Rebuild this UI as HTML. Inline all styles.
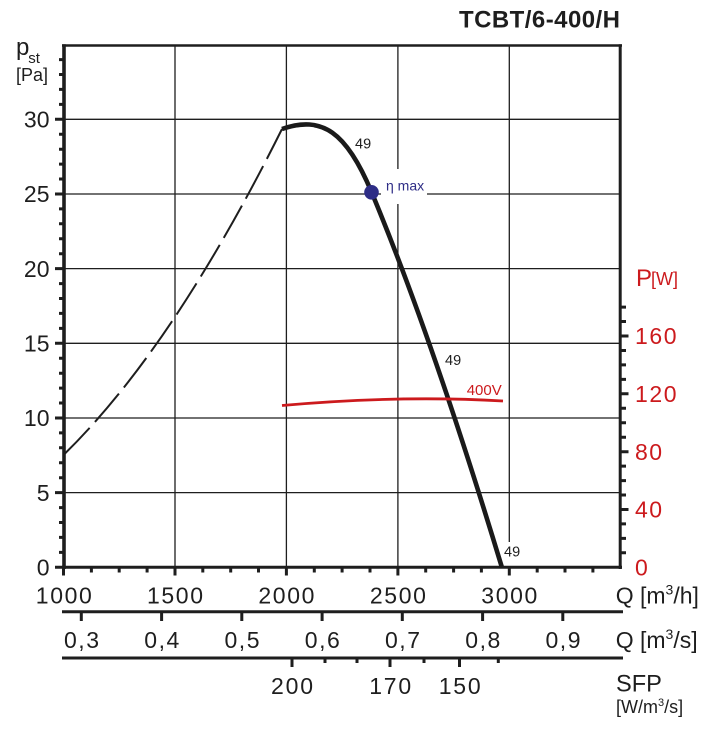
<!DOCTYPE html>
<html>
<head>
<meta charset="utf-8">
<style>
html,body{margin:0;padding:0;background:#fff;}
svg{display:block;}
text{font-family:"Liberation Sans",Arial,sans-serif;}
</style>
</head>
<body>
<svg width="707" height="737" viewBox="0 0 707 737" xmlns="http://www.w3.org/2000/svg">
<rect x="0" y="0" width="707" height="737" fill="#fff"/>

<!-- title -->
<text x="459" y="27.3" font-size="24" font-weight="bold" fill="#1e1e1e" textLength="161" lengthAdjust="spacing">TCBT/6-400/H</text>

<!-- grid -->
<g stroke="#1e1e1e" stroke-width="1.3" fill="none">
<path d="M64 492.6H620 M64 418H620 M64 343.3H620 M64 268.6H620 M64 194H620 M64 119.3H620"/>
<path d="M175 45.5V567 M286.4 45.5V567 M397.9 45.5V567 M509.3 45.5V567"/>
</g>

<!-- white label boxes -->
<rect x="381" y="169" width="46" height="35" fill="#fff"/>
<rect x="503" y="542" width="18" height="24" fill="#fff"/>

<!-- frame -->
<g stroke="#1e1e1e" fill="none">
<path d="M62 45.5H622" stroke-width="2.6"/>
<path d="M64 44.2V569" stroke-width="3.6"/>
<path d="M620.2 44.2V569" stroke-width="3"/>
<path d="M62 567.3H622" stroke-width="3"/>
<!-- left ticks -->
<path stroke-width="3" d="M59 552.4H64 M59 537.4H64 M59 522.5H64 M59 507.6H64 M59 477.7H64 M59 462.8H64 M59 447.8H64 M59 432.9H64 M59 403H64 M59 388.1H64 M59 373.2H64 M59 358.2H64 M59 328.4H64 M59 313.4H64 M59 298.5H64 M59 283.6H64 M59 253.7H64 M59 238.8H64 M59 223.8H64 M59 208.9H64 M59 179H64 M59 164.1H64 M59 149.2H64 M59 134.2H64 M59 104.4H64 M59 89.4H64 M59 74.5H64 M59 59.6H64"/>
<path stroke-width="3" d="M55 567.3H64 M55 492.6H64 M55 418H64 M55 343.3H64 M55 268.6H64 M55 194H64 M55 119.3H64"/>
<!-- bottom ticks -->
<path stroke-width="3" d="M91.4 567V572.5 M119.2 567V572.5 M147.1 567V572.5 M202.8 567V572.5 M230.7 567V572.5 M258.5 567V572.5 M314.3 567V572.5 M342.1 567V572.5 M370 567V572.5 M425.7 567V572.5 M453.6 567V572.5 M481.4 567V572.5 M537.2 567V572.5 M565 567V572.5 M592.9 567V572.5"/>
<path stroke-width="3" d="M63.5 567V575.5 M175 567V575.5 M286.4 567V575.5 M397.9 567V575.5 M509.3 567V575.5"/>
<!-- right ticks -->
<path stroke-width="3" d="M620 552.8H626 M620 538.4H626 M620 523.9H626 M620 495H626 M620 480.6H626 M620 466.1H626 M620 437.2H626 M620 422.7H626 M620 408.3H626 M620 379.4H626 M620 364.9H626 M620 350.5H626 M620 321.5H626 M620 307.1H626"/>
<path stroke-width="3" d="M620 509.5H628.5 M620 451.7H628.5 M620 393.8H628.5 M620 336H628.5"/>
<!-- Q m3/s axis -->
<path stroke-width="3" d="M62 611.8H623"/>
<path stroke-width="3" d="M81.3 612V621 M161.6 612V621 M241.8 612V621 M322.1 612V621 M402.3 612V621 M482.6 612V621 M562.8 612V621"/>
<!-- SFP axis -->
<path stroke-width="3" d="M62 658H623"/>
<path stroke-width="3" d="M292 658V667 M390 658V667 M459.5 658V667"/>
<path stroke-width="3" d="M325 658V663 M357 658V663 M424 658V663 M498.3 658V663"/>
</g>

<!-- dashed curve -->
<path d="M64 454.5 Q172.85 348.1 282 129" fill="none" stroke="#1e1e1e" stroke-width="2" stroke-dasharray="37 8"/>

<!-- main curve -->
<path d="M282 129 C322 115 346.5 132 371.5 192 C414.9 296.2 458.3 423.5 501.7 566.7" fill="none" stroke="#1a1a1a" stroke-width="4.6" stroke-linecap="butt"/>

<!-- red power curve -->
<path d="M282 405.5 Q400 395 503 401" fill="none" stroke="#cc1a1d" stroke-width="2.8"/>

<!-- eta max dot -->
<circle cx="371.5" cy="192.3" r="7.3" fill="#2e2d86"/>
<text x="386" y="190.5" font-size="14" fill="#2e2d86">η max</text>

<!-- curve labels -->
<text x="355" y="148.5" font-size="14.5" fill="#1e1e1e">49</text>
<text x="445" y="365" font-size="14.5" fill="#1e1e1e">49</text>
<text x="504" y="556.7" font-size="14.5" fill="#1e1e1e">49</text>
<text x="466.7" y="395" font-size="15" fill="#cc1a1d">400V</text>

<!-- left axis label -->
<text x="16" y="55" font-size="24" fill="#1e1e1e">p</text>
<text x="28.3" y="63" font-size="15" fill="#1e1e1e">st</text>
<text x="16" y="81" font-size="18" fill="#1e1e1e">[Pa]</text>

<!-- left tick labels -->
<g font-size="23" fill="#1e1e1e" text-anchor="end">
<text x="49.5" y="127.5">30</text>
<text x="49.5" y="202.2">25</text>
<text x="49.5" y="276.8">20</text>
<text x="49.5" y="351.5">15</text>
<text x="49.5" y="426.2">10</text>
<text x="49.5" y="500.8">5</text>
<text x="49.5" y="575.5">0</text>
</g>

<!-- right axis label & ticks -->
<text x="636" y="286" font-size="24" fill="#cc1a1d">P</text>
<text x="651" y="285" font-size="18" fill="#cc1a1d">[W]</text>
<g font-size="23" fill="#cc1a1d">
<text x="635" y="344.2" textLength="41.5" lengthAdjust="spacing">160</text>
<text x="635" y="402" textLength="41.5" lengthAdjust="spacing">120</text>
<text x="635" y="459.9" textLength="27" lengthAdjust="spacing">80</text>
<text x="635" y="517.7" textLength="27" lengthAdjust="spacing">40</text>
<text x="635" y="575.5">0</text>
</g>

<!-- Q m3/h labels -->
<g font-size="23" fill="#1e1e1e" text-anchor="middle">
<text x="63.8" y="603.3" textLength="56" lengthAdjust="spacing">1000</text>
<text x="175" y="603.3" textLength="56" lengthAdjust="spacing">1500</text>
<text x="286.4" y="603.3" textLength="56" lengthAdjust="spacing">2000</text>
<text x="397.9" y="603.3" textLength="56" lengthAdjust="spacing">2500</text>
<text x="509.3" y="603.3" textLength="56" lengthAdjust="spacing">3000</text>
</g>
<text x="615.7" y="603.3" font-size="23" fill="#1e1e1e">Q [m<tspan font-size="14" dy="-9">3</tspan><tspan font-size="23" dy="9">/h]</tspan></text>

<!-- Q m3/s labels -->
<g font-size="23" fill="#1e1e1e" text-anchor="middle">
<text x="81.5" y="648" textLength="35" lengthAdjust="spacing">0,3</text>
<text x="161.8" y="648" textLength="35" lengthAdjust="spacing">0,4</text>
<text x="242" y="648" textLength="35" lengthAdjust="spacing">0,5</text>
<text x="322.3" y="648" textLength="35" lengthAdjust="spacing">0,6</text>
<text x="402.5" y="648" textLength="35" lengthAdjust="spacing">0,7</text>
<text x="482.8" y="648" textLength="35" lengthAdjust="spacing">0,8</text>
<text x="563" y="648" textLength="35" lengthAdjust="spacing">0,9</text>
</g>
<text x="615.7" y="648" font-size="23" fill="#1e1e1e">Q [m<tspan font-size="14" dy="-9">3</tspan><tspan font-size="23" dy="9">/s]</tspan></text>

<!-- SFP labels -->
<g font-size="23" fill="#1e1e1e" text-anchor="middle">
<text x="292" y="694" textLength="42" lengthAdjust="spacing">200</text>
<text x="390.2" y="694" textLength="42" lengthAdjust="spacing">170</text>
<text x="459.7" y="694" textLength="42" lengthAdjust="spacing">150</text>
</g>
<text x="616" y="691.7" font-size="23.6" fill="#1e1e1e">SFP</text>
<text x="616" y="713" font-size="18" fill="#1e1e1e">[W/m<tspan font-size="11" dy="-7">3</tspan><tspan font-size="18" dy="7">/s]</tspan></text>
</svg>
</body>
</html>
